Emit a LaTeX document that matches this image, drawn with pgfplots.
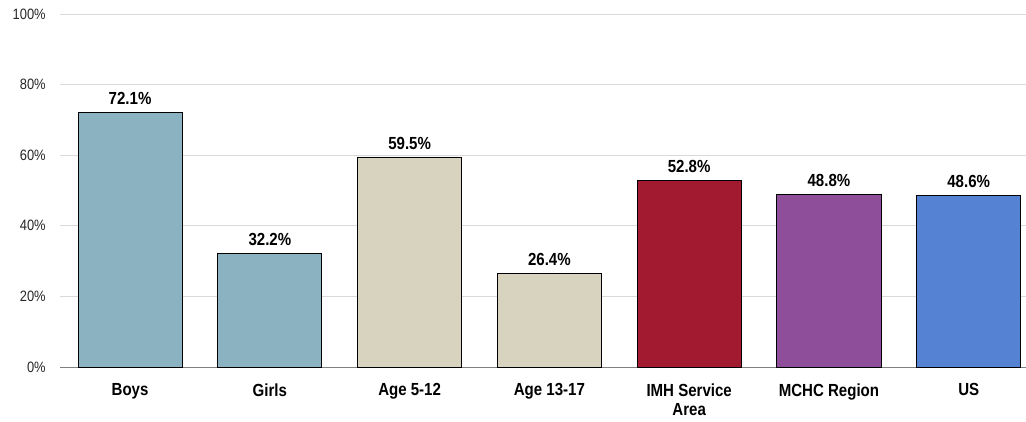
\documentclass[border=0pt]{standalone}
\usepackage{fontspec}
\setmainfont{Liberation Sans}[FakeStretch=0.86]
\usepackage{pgfplots}
\pgfplotsset{compat=1.18}
\definecolor{cBlue}{HTML}{8AB2C1}
\definecolor{cTan}{HTML}{D8D3BE}
\definecolor{cRed}{HTML}{A21A30}
\definecolor{cPurple}{HTML}{8E4E9A}
\definecolor{cUS}{HTML}{5682D3}
\definecolor{cGrid}{HTML}{D9D9D9}
\begin{document}
\begin{tikzpicture}
\begin{axis}[
  scale only axis,
  width=965.8bp, height=353bp,
  ymin=0, ymax=100,
  xmin=-0.5, xmax=6.41,
  ytick={0,20,40,60,80,100},
  yticklabel={\pgfmathprintnumber{\tick}\%},
  /pgf/number format/assume math mode=true,
  yticklabel style={font=\fontsize{15bp}{17bp}\selectfont, color=black!85, xshift=-11bp},
  xtick={0,1,2,3,4,5,6},
  xticklabels={Boys,Girls,Age 5-12,Age 13-17,IMH Service\\Area,MCHC Region,US},
  xticklabel style={font=\bfseries\fontsize{17.5bp}{19bp}\selectfont, align=center, yshift=-13bp},
  major tick length=0pt,
  axis x line*=bottom,
  axis y line*=left,
  y axis line style={draw=none},
  x axis line style={draw=gray, line width=1bp, -},
  ymajorgrids,
  grid style={cGrid, line width=0.8bp},
  ybar, bar width=0.745, bar shift=0pt,
  nodes near coords={\pgfmathprintnumber[fixed,fixed zerofill,precision=1]{\pgfplotspointmeta}\%},
  nodes near coords style={font=\bfseries\fontsize{17.5bp}{19bp}\selectfont, black, yshift=4bp},
  every axis plot/.append style={draw=black, line width=0.9bp},
  clip=false,
]
\addplot[fill=cBlue] coordinates {(0,72.1) (1,32.2)};
\addplot[fill=cTan] coordinates {(2,59.5) (3,26.4)};
\addplot[fill=cRed] coordinates {(4,52.8)};
\addplot[fill=cPurple] coordinates {(5,48.8)};
\addplot[fill=cUS] coordinates {(6,48.6)};
\end{axis}
\pgfresetboundingbox
\path[use as bounding box] ([xshift=-60.2bp,yshift=-55bp]current axis.south west) rectangle ([yshift=14bp]current axis.north east);
\end{tikzpicture}
\end{document}
